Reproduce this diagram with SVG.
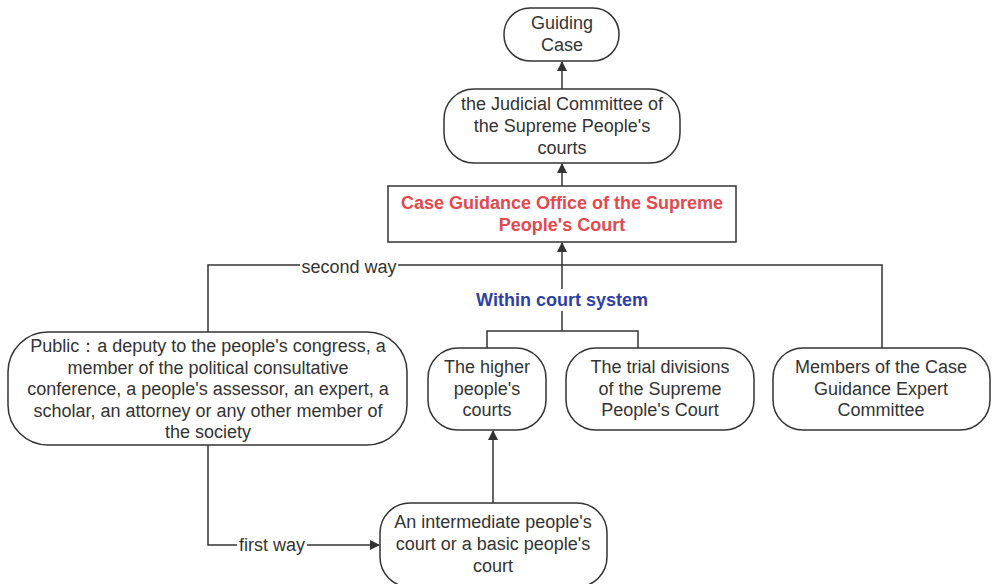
<svg xmlns="http://www.w3.org/2000/svg" width="992" height="584" viewBox="0 0 992 584">
<defs>
<marker id="arr" markerWidth="10" markerHeight="10" refX="9" refY="5" orient="auto" markerUnits="userSpaceOnUse">
<path d="M0,0 L10,5 L0,10 Z" fill="#333"/>
</marker>
<style>
.n{fill:#fff;stroke:#333;stroke-width:1.5}
.t{font-family:"Liberation Sans",Arial,sans-serif;font-size:18px;fill:#333;text-anchor:middle}
.c{fill:none;stroke:#333;stroke-width:1.5}
.lb{font-family:"Liberation Sans",Arial,sans-serif;font-size:18px;fill:#333;text-anchor:middle}
</style>
</defs>
<rect width="992" height="584" fill="#fff"/>
<g id="connectors">
<line class="c" x1="562" y1="89" x2="562" y2="62" marker-end="url(#arr)"/>
<line class="c" x1="562" y1="186" x2="562" y2="164" marker-end="url(#arr)"/>
<line class="c" x1="562" y1="331" x2="562" y2="243" marker-end="url(#arr)"/>
<polyline class="c" points="487,348 487,331 638,331 638,348"/>
<polyline class="c" points="208,332 208,265 882,265 882,348"/>
<line class="c" x1="493" y1="503" x2="493" y2="431" marker-end="url(#arr)"/>
<polyline class="c" points="208,445 208,545 379,545" marker-end="url(#arr)"/>
<rect x="300" y="256" width="98" height="20" fill="#fff"/>
<text class="lb" x="349" y="273">second way</text>
<rect x="237" y="536" width="70" height="20" fill="#fff"/>
<text class="lb" x="272" y="551">first way</text>
<rect x="470" y="289" width="184" height="22" fill="#fff"/>
<text x="562" y="306" style="font-family:'Liberation Sans',Arial,sans-serif;font-size:18px;font-weight:bold;fill:#2e3fa8;text-anchor:middle">Within court system</text>
</g>
<g id="guiding">
<rect class="n" x="504" y="8" width="115" height="53" rx="26"/>
<text class="t"><tspan x="562" y="29">Guiding</tspan><tspan x="562" y="51">Case</tspan></text>
</g>
<g id="judicial">
<rect class="n" x="444" y="89" width="236" height="74" rx="30"/>
<text class="t"><tspan x="562" y="110">the Judicial Committee of</tspan><tspan x="562" y="132">the Supreme People's</tspan><tspan x="562" y="154">courts</tspan></text>
</g>
<g id="office">
<rect x="388" y="186" width="348" height="56" fill="#fff" stroke="#333" stroke-width="1.5"/>
<text style="font-family:'Liberation Sans',Arial,sans-serif;font-size:18px;font-weight:bold;fill:#e5484d;text-anchor:middle"><tspan x="562" y="209">Case Guidance Office of the Supreme</tspan><tspan x="562" y="231">People's Court</tspan></text>
</g>
<g id="public">
<rect class="n" x="8" y="332" width="399" height="113" rx="40"/>
<text class="t"><tspan x="208" y="352">Public：a deputy to the people's congress, a</tspan><tspan x="208" y="374">member of the political consultative</tspan><tspan x="208" y="395">conference, a people's assessor, an expert, a</tspan><tspan x="208" y="417">scholar, an attorney or any other member of</tspan><tspan x="208" y="438">the society</tspan></text>
</g>
<g id="higher">
<rect class="n" x="428" y="348" width="118" height="82" rx="30"/>
<text class="t"><tspan x="487" y="373">The higher</tspan><tspan x="487" y="395">people's</tspan><tspan x="487" y="416">courts</tspan></text>
</g>
<g id="trial">
<rect class="n" x="566" y="348" width="188" height="82" rx="30"/>
<text class="t"><tspan x="660" y="373">The trial divisions</tspan><tspan x="660" y="395">of the Supreme</tspan><tspan x="660" y="416">People's Court</tspan></text>
</g>
<g id="members">
<rect class="n" x="773" y="348" width="217" height="82" rx="30"/>
<text class="t"><tspan x="881" y="373">Members of the Case</tspan><tspan x="881" y="395">Guidance Expert</tspan><tspan x="881" y="416">Committee</tspan></text>
</g>
<g id="intermediate">
<rect class="n" x="380" y="503" width="227" height="84" rx="30"/>
<text class="t"><tspan x="493" y="528">An intermediate people's</tspan><tspan x="493" y="550">court or a basic people's</tspan><tspan x="493" y="572">court</tspan></text>
</g>
</svg>
